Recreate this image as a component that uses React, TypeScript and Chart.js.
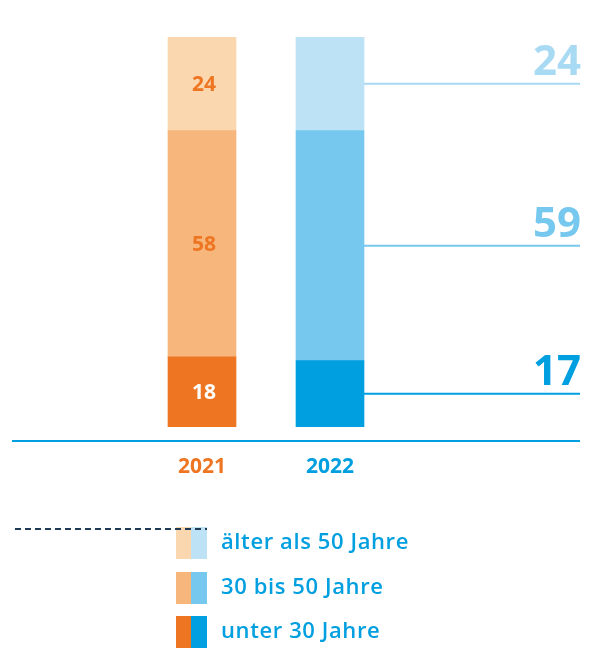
import React, { useEffect, useRef } from "react";
import { Chart, registerables } from "chart.js";

Chart.register(...registerables);

const years = ["2021", "2022"];
const seriesNames = ["unter 30 Jahre", "30 bis 50 Jahre", "älter als 50 Jahre"];
const under30 = [18, 17];
const from30to50 = [58, 59];
const over50 = [24, 24];

const orangeShades = ["#EE7623", "#F7B77C", "#FBD7B0"];
const blueShades = ["#009FE0", "#77C8EE", "#BDE1F5"];
const rightLabelColors = ["#009FE0", "#77C8EE", "#A9DAF4"];
const inLabelColors = ["#FFFFFF", "#EE7623", "#EE7623"];
const yearColors = ["#EE7623", "#009FE0"];

const FONT = "'Open Sans', Lato, sans-serif";

const overlayPlugin = {
  id: "overlay",
  afterDatasetsDraw(chart: any) {
    const ctx = chart.ctx;
    const yScale = chart.scales.y;
    ctx.save();

    // baseline
    const baseY = yScale.getPixelForValue(0) + 14;
    ctx.strokeStyle = "#009FE0";
    ctx.lineWidth = 2;
    ctx.beginPath();
    ctx.moveTo(12, baseY);
    ctx.lineTo(580, baseY);
    ctx.stroke();

    // year labels
    const meta0 = chart.getDatasetMeta(0);
    ctx.font = `bold 21px ${FONT}`;
    ctx.textAlign = "center";
    ctx.textBaseline = "middle";
    years.forEach((y, i) => {
      const bar = meta0.data[i];
      ctx.fillStyle = yearColors[i];
      ctx.fillText(y, bar.x, baseY + 26);
    });

    // inner labels for first bar, right-hand labels for second bar
    chart.data.datasets.forEach((ds: any, di: number) => {
      const meta = chart.getDatasetMeta(di);
      const b0 = meta.data[0];
      const mid0 = (b0.y + b0.base) / 2;
      ctx.font = `bold 21px ${FONT}`;
      ctx.fillStyle = inLabelColors[di];
      ctx.textAlign = "center";
      ctx.textBaseline = "middle";
      ctx.fillText(String(ds.data[0]), b0.x + 2, mid0 + 1);

      const b1 = meta.data[1];
      const mid1 = (b1.y + b1.base) / 2;
      const right = b1.x + b1.width / 2;
      ctx.strokeStyle = rightLabelColors[di];
      ctx.lineWidth = 2;
      ctx.beginPath();
      ctx.moveTo(right, mid1);
      ctx.lineTo(580, mid1);
      ctx.stroke();
      ctx.font = `bold 42px ${FONT}`;
      ctx.fillStyle = rightLabelColors[di];
      ctx.textAlign = "right";
      ctx.textBaseline = "alphabetic";
      ctx.fillText(String(ds.data[1]), 581, mid1 - 9);
    });

    // legend
    const rows = [2, 1, 0];
    const rowTops = [527, 572, 616];
    rows.forEach((si, r) => {
      const top = rowTops[r];
      ctx.fillStyle = orangeShades[si];
      ctx.fillRect(176, top, 15, 32);
      ctx.fillStyle = blueShades[si];
      ctx.fillRect(191, top, 16, 32);
      ctx.font = `600 22px ${FONT}`;
      (ctx as any).letterSpacing = "0.6px";
      ctx.fillStyle = "#009FE0";
      ctx.textAlign = "left";
      ctx.textBaseline = "middle";
      ctx.fillText(seriesNames[si], 221, top + 16);
      (ctx as any).letterSpacing = "0px";
    });

    ctx.strokeStyle = "#1F3A56";
    ctx.lineWidth = 2;
    ctx.setLineDash([6, 4]);
    ctx.beginPath();
    ctx.moveTo(15, 529);
    ctx.lineTo(207, 529);
    ctx.stroke();
    ctx.setLineDash([]);
    ctx.restore();
  },
};

export default function App() {
  const ref = useRef<HTMLCanvasElement>(null);
  useEffect(() => {
    if (!ref.current) return;
    const chart = new Chart(ref.current, {
      type: "bar",
      data: {
        labels: years,
        datasets: [
          { label: seriesNames[0], data: under30, backgroundColor: [orangeShades[0], blueShades[0]] },
          { label: seriesNames[1], data: from30to50, backgroundColor: [orangeShades[1], blueShades[1]] },
          { label: seriesNames[2], data: over50, backgroundColor: [orangeShades[2], blueShades[2]] },
        ],
      },
      options: {
        responsive: false,
        animation: false,
        layout: { padding: { left: 138, right: 201, top: 37, bottom: 221 } },
        datasets: { bar: { barThickness: 68, borderWidth: 0 } },
        scales: {
          x: { stacked: true, display: false },
          y: { stacked: true, display: false, min: 0, max: 100 },
        },
        plugins: { legend: { display: false }, tooltip: { enabled: false } },
      },
      plugins: [overlayPlugin],
    });
    return () => chart.destroy();
  }, []);
  return (
    <div style={{ position: "absolute", left: 0, top: 0, width: 595, height: 648 }}>
      <canvas ref={ref} width={595} height={648} />
    </div>
  );
}
